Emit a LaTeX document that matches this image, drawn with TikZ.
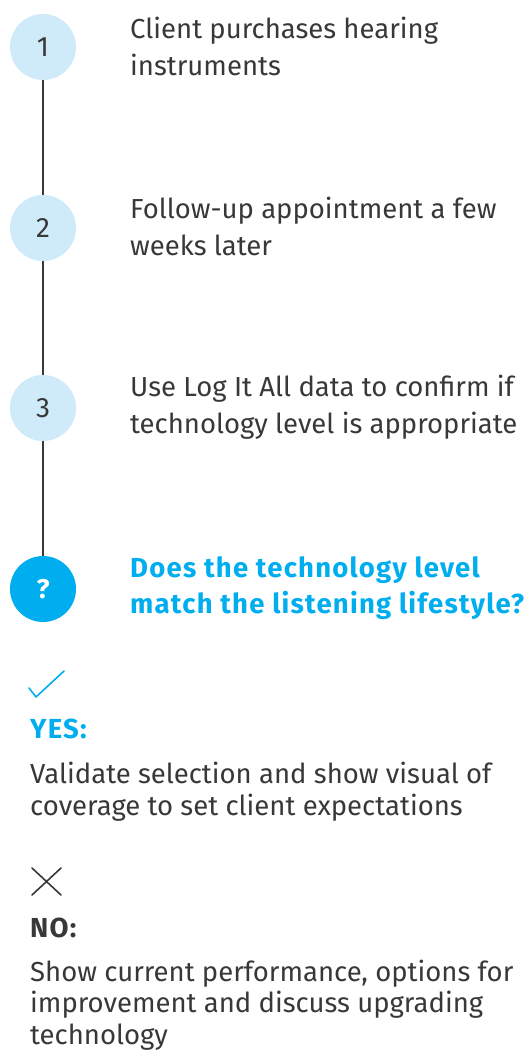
\documentclass[tikz,border=0pt]{standalone}
\usepackage{fontspec}
\setmainfont{Fira Sans}
\definecolor{ink}{HTML}{383838}
\definecolor{accent}{HTML}{00AEEF}
\definecolor{pale}{HTML}{CFEBFA}
\newcommand{\boldwide}{\bfseries\addfontfeature{LetterSpace=4.5}}
\begin{document}
\begin{tikzpicture}[x=1pt,y=-1pt,
  stepdot/.style={circle,fill=pale,minimum size=66pt,inner sep=0pt,text=ink,font=\fontsize{28}{30}\selectfont},
  askdot/.style={circle,fill=accent,minimum size=66pt,inner sep=0pt,text=white,font=\bfseries\fontsize{27}{30}\selectfont},
  steptext/.style={anchor=base west,inner sep=0pt,align=left,text=ink,font=\fontsize{27.5}{36.5}\selectfont},
  bodytext/.style={steptext,font=\fontsize{27.5}{31.5}\selectfont},
  asktext/.style={steptext,text=accent,font=\fontsize{27.5}{36}\selectfont\boldwide},
  headtext/.style={steptext,font=\fontsize{27.5}{32}\selectfont\boldwide},
  link/.style={draw=ink,line width=1.5pt},
  glyph/.style={line width=1.6pt,line cap=round,line join=round}]
\useasboundingbox (0,0) rectangle (530,1055);
% timeline dots
\node[stepdot] (s1) at (43,47) {1};
\node[stepdot] (s2) at (43,228) {2};
\node[stepdot] (s3) at (43,408) {3};
\node[askdot]  (q)  at (43,589) {?};
\draw[link] (s1) -- (s2);
\draw[link] (s2) -- (s3);
\draw[link] (s3) -- (q);
% step descriptions (anchored at the baseline of the last line)
\node[steptext] (t1) at (130,75) {Client purchases hearing\\instruments};
\node[steptext] (t2) at (130,255) {Follow-up appointment a few\\weeks later};
\node[steptext] (t3) at (130,433) {Use Log It All data to confirm if\\technology level is appropriate};
\node[asktext]  (tq) at (130,613) {Does the technology level\\match the listening lifestyle?};
% outcome: yes
\coordinate (c1) at (29,688);
\coordinate (c2) at (36,697);
\coordinate (c3) at (64,671);
\draw[glyph,draw=accent] (c1) -- (c2) -- (c3);
\node[headtext,text=accent] (yes) at (30,738) {YES:};
\node[bodytext] (yt) at (30,815) {Validate selection and show visual of\\coverage to set client expectations};
% outcome: no
\coordinate (x1) at (32,868);
\coordinate (x2) at (61,895);
\coordinate (x3) at (61,868);
\coordinate (x4) at (32,895);
\draw[glyph,draw=ink] (x1) -- (x2) (x3) -- (x4);
\node[headtext] (no) at (30,937) {NO:};
\node[bodytext] (nt) at (30,1044) {Show current performance, options for\\improvement and discuss upgrading\\technology};
\end{tikzpicture}
\end{document}
